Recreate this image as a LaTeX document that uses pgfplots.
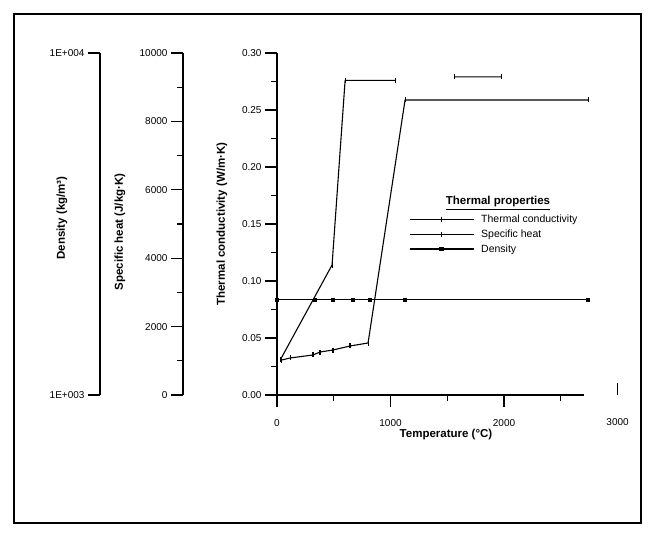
\documentclass[border=0pt]{standalone}
\usepackage{fontspec}
\setmainfont{Liberation Sans}
\usepackage{pgfplots}
\pgfplotsset{compat=1.18}

% shared look of the three stacked y axes
\pgfplotsset{
  multiax/.style={
    scale only axis,
    height=342pt,
    xmax=2700,
    clip=false,
    tick style={line width=1.1pt,black},
    major tick length=12pt,
    minor tick length=6pt,
    ticklabel style={font=\fontsize{10}{11}\selectfont},
    /pgf/number format/assume math mode=true,
  },
  plainlines/.style={
    axis line style={line width=1.1pt,-},
    every outer x axis line/.append style={-},
    every outer y axis line/.append style={-},
    tick align=outside,
  },
  seriesline/.style={line width=1.1pt,black},
}

\begin{document}
\begin{tikzpicture}
% page area and outer frame
\path (0pt,0pt) rectangle (655pt,537pt);
\draw[line width=1.3pt] (14pt,14pt) rectangle (641pt,523pt);

% density axis (logarithmic), outermost
\begin{axis}[multiax,
  at={(100pt,142pt)}, anchor=south west,
  width=483.5pt,
  xmin=-1559.5,
  hide x axis,
  axis y line=left,
  plainlines,
  ymode=log, ymin=1000, ymax=10000,
  ytick={1000,10000},
  yticklabels={1E+003,1E+004},
  yminorticks=false,
]
\addplot[seriesline, mark=square*, mark size=1.6pt]
  coordinates {(0,1900) (335,1900) (493,1900) (670,1900) (820,1900) (1128,1900) (2740,1900)};
\end{axis}

% specific heat axis
\begin{axis}[multiax,
  at={(183pt,142pt)}, anchor=south west,
  width=400.5pt,
  xmin=-828.2,
  hide x axis,
  axis y line=left,
  plainlines,
  ymin=0, ymax=10,
  ytick={0,2,4,6,8,10},
  yticklabels={0,2000,4000,6000,8000,10000},
  minor ytick={1,3,5,7,9},
]
% specific heat in kJ/(kg K) so the axis stays in a small number range
\addplot[seriesline, mark=|, mark size=2.5pt]
  coordinates {(41,1.023) (115,1.082) (317,1.170) (379,1.257) (493,1.315) (643,1.433) (802,1.520) (1128,8.626) (2740,8.626)};
\end{axis}

% thermal conductivity axis with the temperature axis
\begin{axis}[multiax,
  at={(277pt,142pt)}, anchor=south west,
  width=306.5pt,
  xmin=0,
  axis x line=bottom,
  axis y line=left,
  plainlines,
  ymin=0, ymax=0.30,
  xtick={0,1000,2000},
  xticklabels={0,1000,2000},
  xticklabel style={yshift=-9pt},
  minor xtick={500,1500,2500},
  ytick={0,0.05,0.10,0.15,0.20,0.25,0.30},
  yticklabels={0.00,0.05,0.10,0.15,0.20,0.25,0.30},
  minor ytick={0.025,0.075,0.125,0.175,0.225,0.275},
  unbounded coords=jump,
  legend style={at={(0.427,0.535)}, anchor=north west, draw=none, fill=none,
    font=\fontsize{10.5}{11}\selectfont, row sep=1.5pt, inner sep=1pt,
    cells={anchor=west}, /tikz/every odd column/.append style={column sep=5pt}},
  legend image code/.code={%
    \draw[mark repeat=2,mark phase=2,#1] plot coordinates {(0pt,0pt) (32pt,0pt) (64pt,0pt)};},
]
\addplot[seriesline, mark=|, mark size=2.5pt]
  coordinates {(30,0.031) (485,0.114) (600,0.276) (1040,0.276) (1300,nan) (1560,0.279) (1980,0.279)};
\addlegendentry{Thermal conductivity}
\addlegendimage{seriesline, mark=|, mark size=2.5pt}
\addlegendentry{Specific heat}
\addlegendimage{seriesline, mark=square*, mark size=1.6pt}
\addlegendentry{Density}

% stray end tick and label of the temperature scale
\draw[line width=1.1pt] (axis cs:3000,0) -- ++(0pt,12pt);
\node[font=\fontsize{10}{11}\selectfont] at ([yshift=-27pt]axis cs:3000,0) {3000};
\end{axis}

% axis titles
\node[font=\fontsize{11.5}{13}\selectfont\bfseries, rotate=90] at (62pt,319pt) {Density (kg/m³)};
\node[font=\fontsize{11.5}{13}\selectfont\bfseries, rotate=90] at (120pt,305pt) {Specific heat (J/kg·K)};
\node[font=\fontsize{11.5}{13}\selectfont\bfseries, rotate=90] at (222pt,313pt) {Thermal conductivity (W/m·K)};
\node[font=\fontsize{11.5}{13}\selectfont\bfseries] at (446pt,102pt) {Temperature (°C)};
\node[font=\fontsize{11.5}{13}\selectfont\bfseries] at (498pt,334pt) {\underline{Thermal properties}};
\end{tikzpicture}
\end{document}
